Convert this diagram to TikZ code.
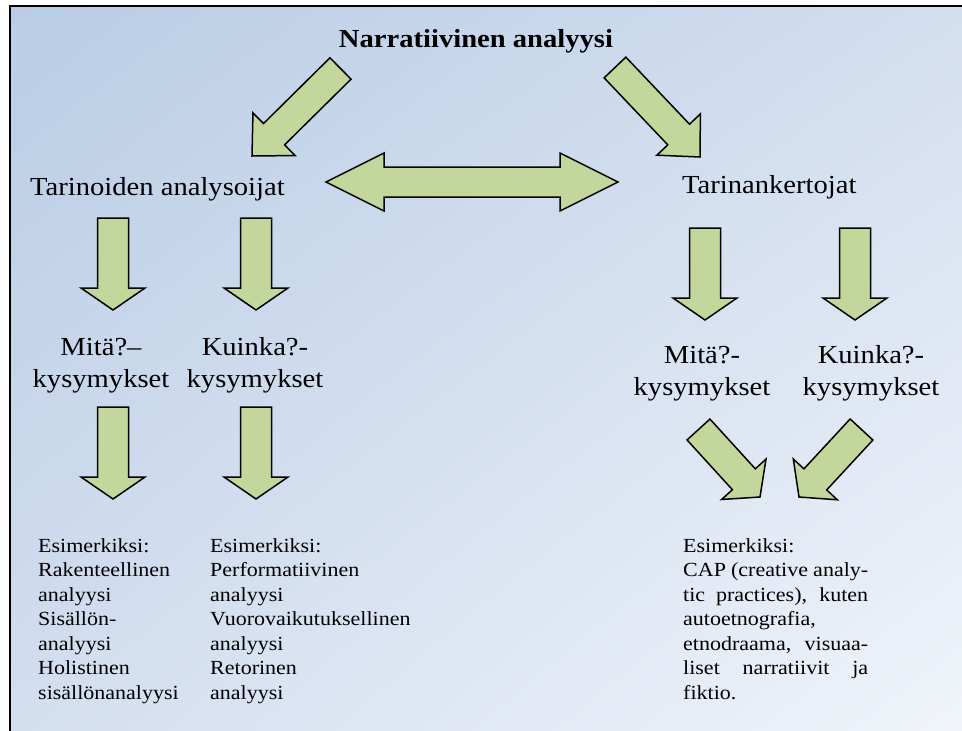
\documentclass[tikz,border=0pt]{standalone}
\usepackage{fontspec}
\setmainfont{Liberation Serif}[FakeStretch=1.1]
\usepackage{xcolor}
\definecolor{colorArrow}{HTML}{C3D69B}
\definecolor{colorBgTL}{HTML}{B9CDE5}
\definecolor{colorBgMid}{HTML}{D3DEEF}
\definecolor{colorBgBR}{HTML}{F0F4FA}
\usepackage{tikz}
\usetikzlibrary{calc, positioning, shadings}
\tikzset{blockarrow/.style={fill=colorArrow, draw=black, line width=1.5pt, line join=miter},
  bigtext/.style={inner sep=0pt, font=\fontsize{26}{32}\selectfont, align=center},
  smalltext/.style={inner sep=0pt, font=\fontsize{20}{24.5}\selectfont, align=left}}
\newcommand{\blockarrow}[5]{%
\coordinate (hb) at ($(#2)!#5!(#1)$);
\draw[blockarrow] ($(#1)!#3!90:(#2)$) -- ($(hb)!#3!90:(#2)$) -- ($(hb)!#4!90:(#2)$) -- (#2) -- ($(hb)!#4!-90:(#2)$) -- ($(hb)!#3!-90:(#2)$) -- ($(#1)!#3!-90:(#2)$) -- cycle;}
\newcommand{\dblockarrow}[5]{%
\coordinate (ha) at ($(#1)!#5!(#2)$);
\coordinate (hb) at ($(#2)!#5!(#1)$);
\draw[blockarrow] (#1) -- ($(ha)!#4!90:(#2)$) -- ($(ha)!#3!90:(#2)$) -- ($(hb)!#3!90:(#2)$) -- ($(hb)!#4!90:(#2)$) -- (#2) -- ($(hb)!#4!-90:(#2)$) -- ($(hb)!#3!-90:(#2)$) -- ($(ha)!#3!-90:(#2)$) -- ($(ha)!#4!-90:(#2)$) -- cycle;}

\begin{document}
\begin{tikzpicture}[x=1pt, y=-1pt]
\useasboundingbox (0,0) rectangle (962,731);
\shade[upper left=colorBgTL, upper right=colorBgMid, lower left=colorBgMid, lower right=colorBgBR] (10,6) rectangle (962,731);
\draw[line width=2pt] (10,731) -- (10,6) -- (962,6);

\node[bigtext, anchor=base, font=\fontsize{26}{32}\selectfont\bfseries] (top) at (476,47) {Narratiivinen analyysi};
\node[bigtext, anchor=base west] (lteller) at (30,195) {Tarinoiden analysoijat};
\node[bigtext, anchor=base west] (rteller) at (682,193) {Tarinankertojat};
\node[bigtext, anchor=base] (lwhat) at (101,387) {Mitä?–\\kysymykset};
\node[bigtext, anchor=base] (lhow) at (255,387) {Kuinka?-\\kysymykset};
\node[bigtext, anchor=base] (rwhat) at (702,395) {Mitä?-\\kysymykset};
\node[bigtext, anchor=base] (rhow) at (871,395) {Kuinka?-\\kysymykset};
\node[smalltext, anchor=base west] (lwhatex) at (38,699) {Esimerkiksi:\\Rakenteellinen\\analyysi\\Sisällön-\\analyysi\\Holistinen\\sisällönanalyysi};
\node[smalltext, anchor=base west] (lhowex) at (210,699) {Esimerkiksi:\\Performatiivinen\\analyysi\\Vuorovaikutuksellinen\\analyysi\\Retorinen\\analyysi};
\node[smalltext, anchor=base west, text width=185pt, align=justify] (rex) at (683,552) {Esimerkiksi:\newline CAP (creative analy-\linebreak tic practices), kuten\linebreak autoetnografia,\newline etnodraama, visuaa-\linebreak liset narratiivit ja\linebreak fiktio.};

\coordinate (a1) at (340.5,68.5); \coordinate (a1e) at (252,156);
\coordinate (a2) at (615,67.5); \coordinate (a2e) at (700,157);
\coordinate (d1) at (326,182); \coordinate (d1e) at (618,182);
\coordinate (b1) at (113,218); \coordinate (b1e) at (113,310);
\coordinate (b2) at (256,218); \coordinate (b2e) at (256,310);
\coordinate (b3) at (113,407); \coordinate (b3e) at (113,499);
\coordinate (b4) at (256,407); \coordinate (b4e) at (256,499);
\coordinate (b5) at (705,228); \coordinate (b5e) at (705,320);
\coordinate (b6) at (855,228); \coordinate (b6e) at (855,320);
\coordinate (c1) at (698.5,429.5); \coordinate (c1e) at (760,497);
\coordinate (c2) at (861.5,429.5); \coordinate (c2e) at (799,497);

\blockarrow{a1}{a1e}{15pt}{30pt}{31pt}
\blockarrow{a2}{a2e}{15pt}{30pt}{31pt}
\dblockarrow{d1}{d1e}{15pt}{29pt}{58pt}
\blockarrow{b1}{b1e}{15.5pt}{32pt}{22pt}
\blockarrow{b2}{b2e}{15.5pt}{32pt}{22pt}
\blockarrow{b3}{b3e}{15.5pt}{32pt}{22pt}
\blockarrow{b4}{b4e}{15.5pt}{32pt}{22pt}
\blockarrow{b5}{b5e}{15.5pt}{32pt}{22pt}
\blockarrow{b6}{b6e}{15.5pt}{32pt}{22pt}
\blockarrow{c1}{c1e}{15.5pt}{30pt}{24pt}
\blockarrow{c2}{c2e}{15.5pt}{30pt}{24pt}
\end{tikzpicture}
\end{document}
